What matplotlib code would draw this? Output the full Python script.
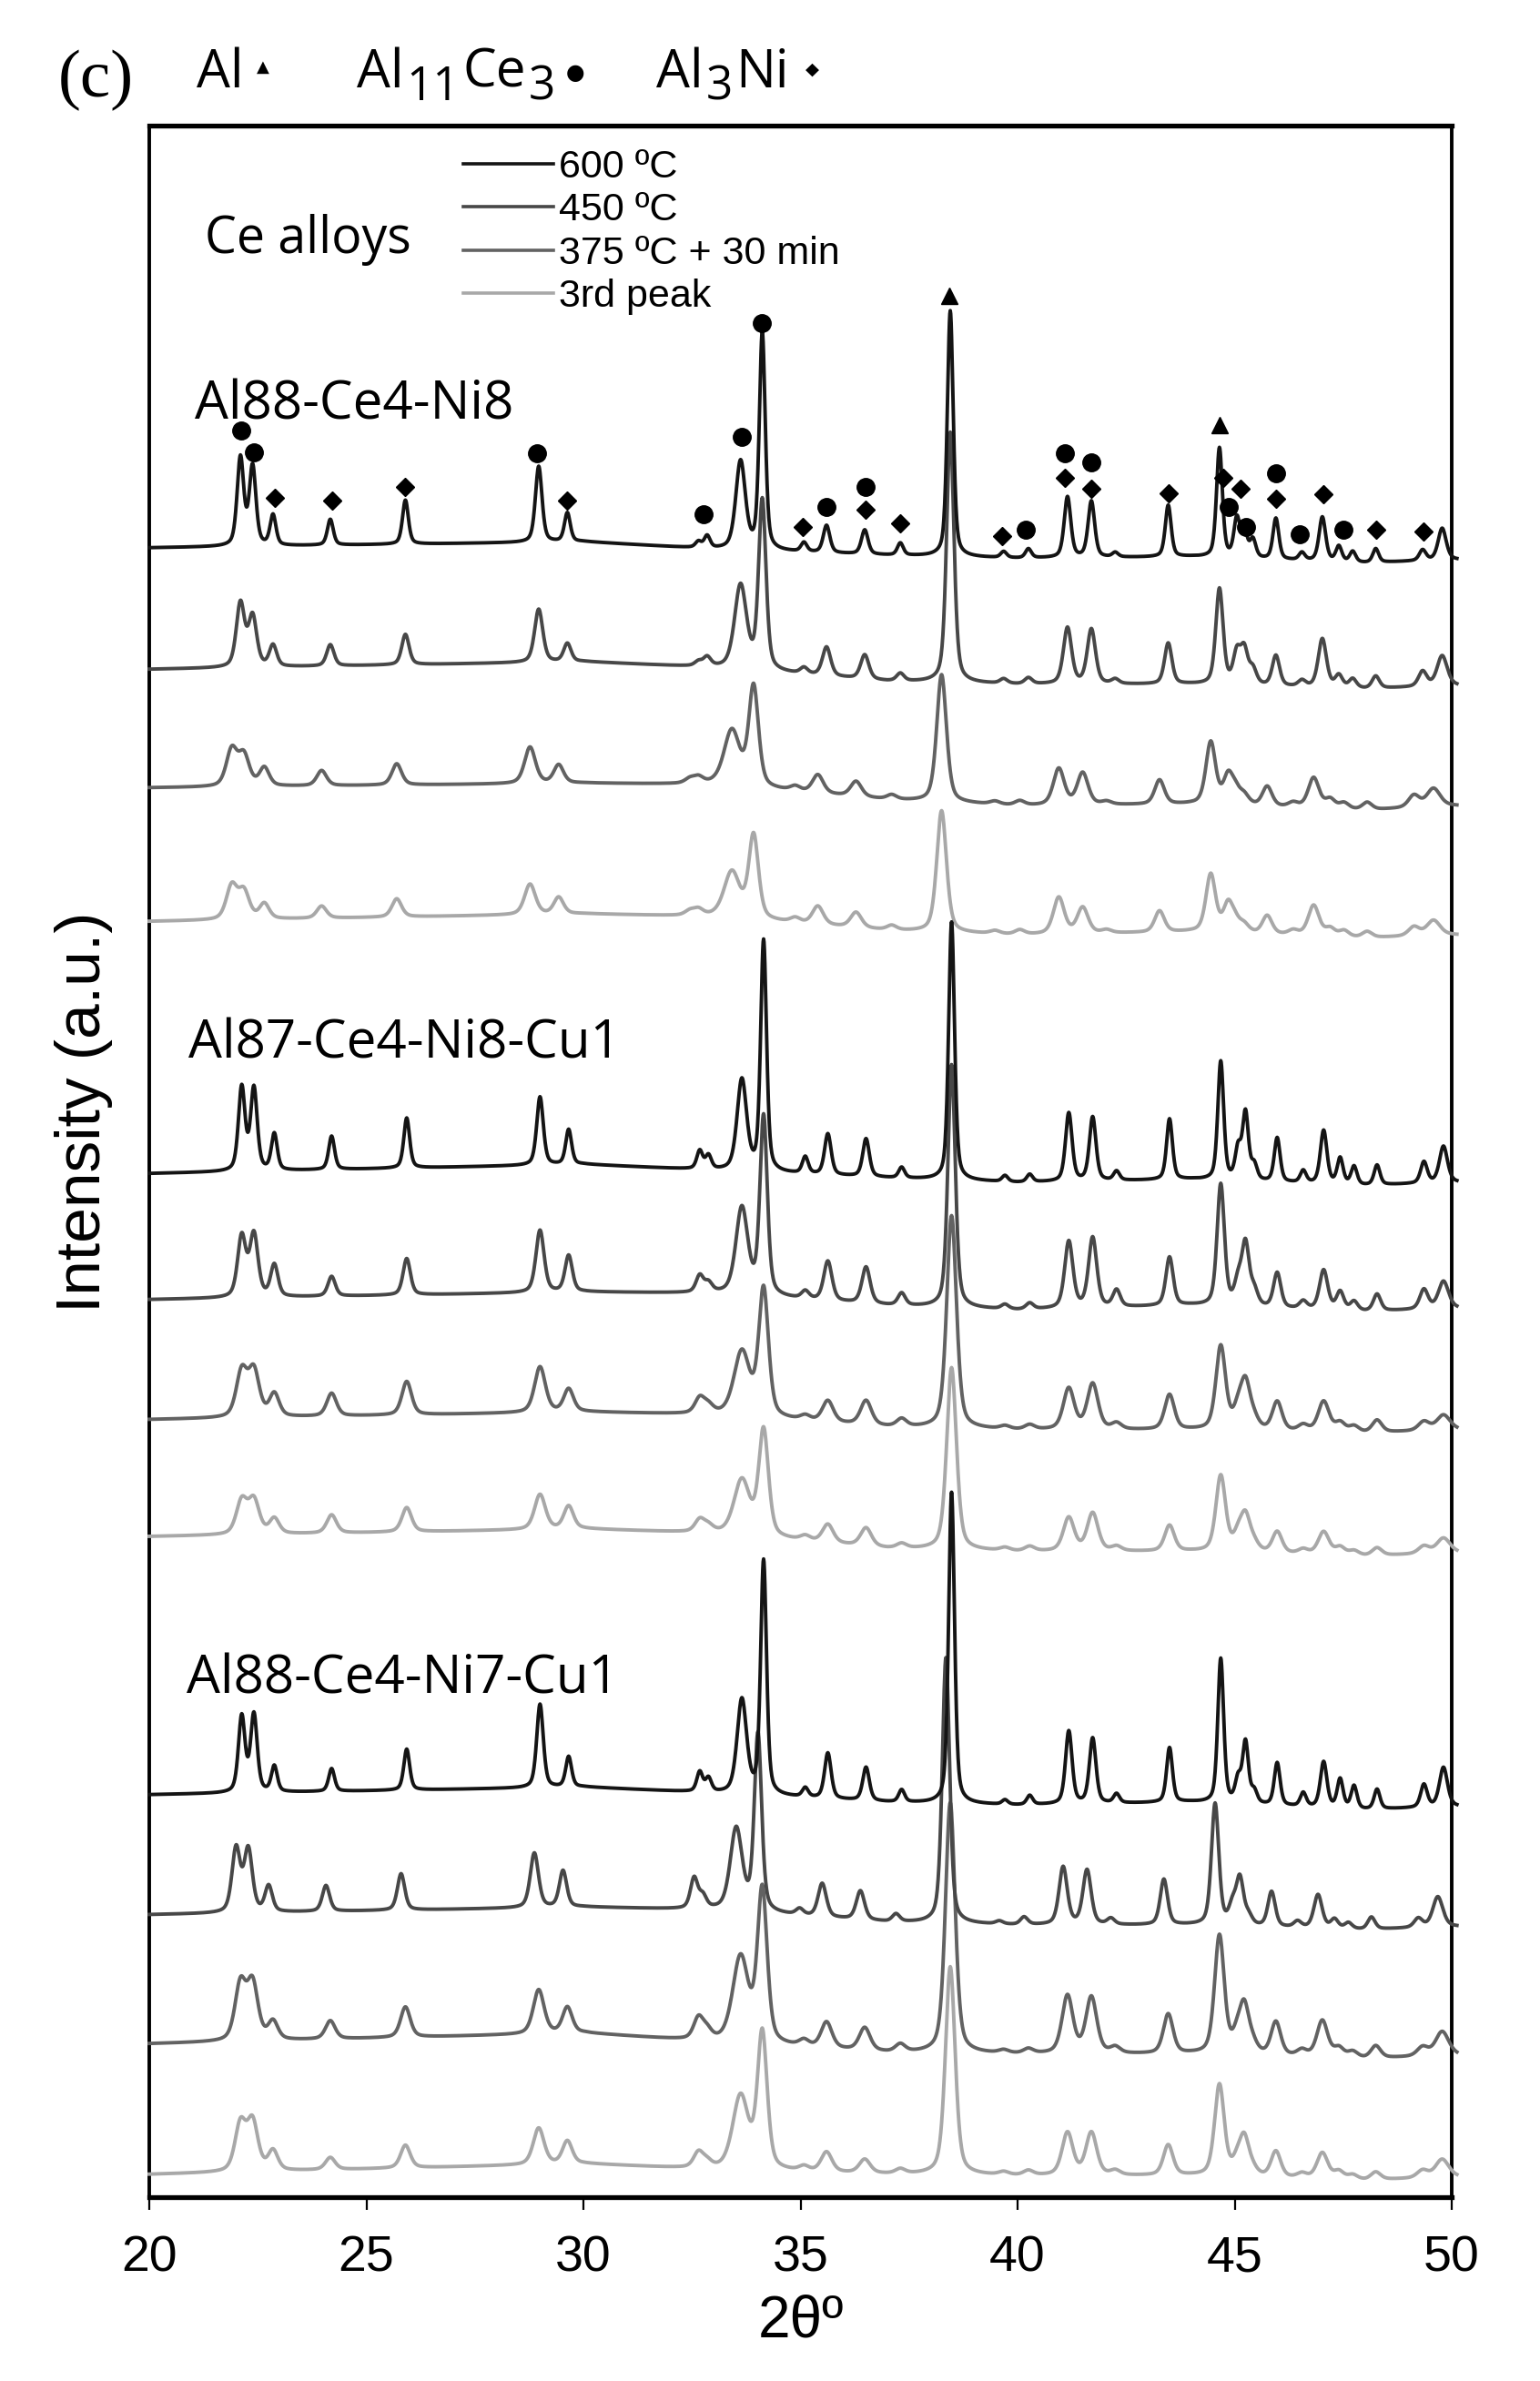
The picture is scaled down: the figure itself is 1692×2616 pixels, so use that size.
import numpy as np
import matplotlib.pyplot as plt

# reflections (2theta, deg) and their half widths for the sharpest pattern
peaks = [22.1, 22.38, 22.85, 24.17, 25.9, 28.97, 29.63, 32.65, 32.85, 33.62,
         34.12, 35.08, 35.6, 36.48, 37.3, 38.45, 39.68, 40.25, 41.15, 41.7,
         42.25, 43.47, 44.65, 45.05, 45.22, 45.42, 45.95, 46.55, 47.02, 47.4,
         47.72, 48.25, 49.33, 49.78]
widths = [0.09, 0.09, 0.08, 0.08, 0.08, 0.09, 0.08, 0.08, 0.08, 0.13,
          0.08, 0.08, 0.09, 0.09, 0.08, 0.08, 0.08, 0.08, 0.09, 0.09,
          0.08, 0.08, 0.08, 0.08, 0.08, 0.08, 0.08, 0.08, 0.09, 0.08,
          0.08, 0.08, 0.09, 0.11]

temps = ['600 ºC', '450 ºC', '375 ºC + 30 min', '3rd peak']
colors = ['#141414', '#474747', '#626262', '#a8a8a8']
width_factor = [1.0, 1.25, 1.65, 1.65]

alloys = ['Al88-Ce4-Ni8', 'Al87-Ce4-Ni8-Cu1', 'Al88-Ce4-Ni7-Cu1']
alloy_label_x = [21.05, 20.9, 20.86]
alloy_label_y = [1180, 759, 341]

# baselines (offset stacking, a.u.) read at these angles
base_x = [20, 30, 33, 37, 40, 44, 48, 50]

# --- Al88-Ce4-Ni8
base_ni8 = [[1086, 1090, 1085, 1081, 1079, 1080, 1076, 1078],
            [1006, 1011, 1007, 998, 996, 996, 993, 995],
            [928, 931, 930, 920, 916, 917, 913, 916],
            [840, 845, 843, 834, 831, 833, 829, 831]]
shift_ni8 = [0.0, 0.0, -0.2, -0.2]
h_ni8_600 = [58, 52, 20, 17, 29, 50, 19, 4, 8, 58, 143, 6, 18, 16, 8, 162, 4,
             6, 40, 37, 3, 34, 72, 25, 18, 12, 27, 5, 29, 10, 7, 9, 7, 21]
h_ni8_450 = [42, 33, 14, 14, 20, 35, 12, 3, 6, 55, 112, 4, 19, 16, 5, 165, 3,
             4, 37, 36, 3, 27, 63, 20, 22, 10, 20, 4, 32, 8, 6, 8, 10, 20]
h_ni8_375 = [24, 20, 12, 10, 14, 24, 12, 3, 4, 36, 66, 3, 12, 10, 3, 84, 2,
             3, 24, 21, 2, 16, 41, 18, 8, 6, 13, 3, 20, 6, 4, 5, 8, 12]
h_ni8_3rd = [22, 18, 10, 8, 12, 20, 11, 3, 4, 30, 55, 3, 12, 10, 3, 80, 2,
             3, 24, 17, 2, 14, 38, 18, 6, 5, 12, 3, 20, 5, 4, 4, 6, 10]

# --- Al87-Ce4-Ni8-Cu1
base_cu1 = [[674, 680, 676, 671, 668, 670, 666, 668],
            [591, 596, 595, 587, 584, 587, 583, 585],
            [512, 517, 515, 507, 505, 505, 503, 505],
            [435, 440, 437, 427, 425, 425, 422, 424]]
shift_cu1 = [0.03, 0.03, 0.03, 0.03]
h_cu1_600 = [55, 54, 24, 22, 33, 45, 23, 12, 9, 60, 152, 11, 27, 25, 7, 170, 4,
             5, 45, 42, 6, 40, 78, 20, 44, 10, 29, 8, 35, 17, 12, 13, 14, 24]
h_cu1_450 = [40, 41, 21, 13, 24, 41, 24, 11, 6, 57, 118, 5, 26, 24, 8, 160, 3,
             4, 44, 46, 11, 32, 80, 15, 40, 10, 23, 5, 26, 12, 6, 11, 13, 18]
h_cu1_375 = [30, 30, 15, 15, 22, 30, 15, 10, 5, 42, 84, 3, 14, 16, 5, 140, 2,
             3, 27, 30, 4, 23, 55, 12, 29, 6, 19, 4, 20, 6, 4, 8, 6, 10]
h_cu1_3rd = [22, 22, 10, 12, 16, 23, 15, 8, 4, 36, 70, 3, 12, 12, 3, 120, 2,
             3, 22, 25, 3, 17, 50, 10, 22, 5, 14, 3, 15, 5, 3, 5, 5, 10]

# --- Al88-Ce4-Ni7-Cu1
base_ni7 = [[265, 270, 266, 260, 258, 260, 255, 257],
            [186, 191, 189, 181, 179, 179, 176, 178],
            [101, 108, 102, 95, 94, 94, 91, 93],
            [15, 22, 18, 15, 14, 14, 11, 13]]
shift_ni7 = [0.03, -0.1, 0.0, 0.0]
h_ni7_600 = [50, 51, 17, 15, 27, 55, 20, 13, 9, 62, 154, 6, 30, 22, 8, 205, 3,
             6, 48, 43, 6, 36, 95, 15, 40, 8, 28, 9, 30, 19, 15, 13, 15, 26]
h_ni7_450 = [42, 41, 17, 17, 24, 36, 24, 20, 8, 54, 117, 4, 22, 19, 5, 175, 2,
             5, 38, 36, 4, 30, 80, 12, 30, 6, 23, 4, 22, 6, 4, 8, 6, 20]
h_ni7_375 = [37, 37, 12, 12, 20, 29, 17, 14, 6, 56, 101, 4, 17, 15, 5, 165, 2,
             3, 38, 37, 4, 26, 78, 10, 30, 6, 22, 4, 24, 6, 4, 8, 6, 16]
h_ni7_3rd = [31, 32, 13, 8, 15, 24, 15, 10, 4, 48, 90, 3, 13, 9, 3, 137, 2,
             3, 28, 28, 3, 20, 60, 8, 24, 4, 17, 3, 17, 5, 3, 5, 5, 12]

heights = [[h_ni8_600, h_ni8_450, h_ni8_375, h_ni8_3rd],
           [h_cu1_600, h_cu1_450, h_cu1_375, h_cu1_3rd],
           [h_ni7_600, h_ni7_450, h_ni7_375, h_ni7_3rd]]
bases = [base_ni8, base_cu1, base_ni7]
shifts = [shift_ni8, shift_cu1, shift_ni7]

# phase markers over the top pattern
al_x = [38.42, 44.66]
al_y = [1252, 1167]
al11ce3_x = [22.12, 22.42, 28.93, 32.76, 33.64, 34.1, 35.6, 36.49, 40.18,
             41.1, 41.7, 44.87, 45.26, 45.95, 46.5, 47.5]
al11ce3_y = [1163, 1149, 1148, 1108, 1159, 1234, 1113, 1126, 1098,
             1148, 1142, 1113, 1100, 1135, 1095, 1098]
al3ni_x = [22.9, 24.22, 25.9, 29.63, 35.05, 36.49, 37.3, 39.65, 41.1, 41.7,
           43.47, 44.74, 45.14, 45.95, 47.04, 48.25, 49.36]
al3ni_y = [1119, 1117, 1126, 1117, 1100, 1111, 1102, 1094, 1132, 1125,
           1122, 1132, 1125, 1118, 1121, 1098, 1097]


def profile(x, p, w):
    # pseudo-Voigt peak, unit height
    g = np.exp(-np.log(2) * (x - p) ** 2 / w ** 2)
    l = 1.0 / (1.0 + ((x - p) / w) ** 2)
    return 0.55 * g + 0.45 * l


tt = np.linspace(20, 50.12, 3013)

fig = plt.figure(figsize=(16.92, 26.16), dpi=100)
ax = fig.add_axes([164 / 1692, 1 - 2414 / 2616, (1595 - 164) / 1692, (2414 - 138) / 2616])

# lighter patterns first so the black ones sit on top
for t in [3, 2, 1, 0]:
    for g in range(3):
        y = np.interp(tt, base_x, bases[g][t])
        for p, w, h in zip(peaks, widths, heights[g][t]):
            y = y + h * profile(tt, p + shifts[g][t], w * width_factor[t])
        ax.plot(tt, y, color=colors[t], lw=2.8, clip_on=False,
                label=temps[t] if g == 0 else None, zorder=3 + (3 - t))

ax.plot(al11ce3_x, al11ce3_y, 'o', color='k', ms=14, zorder=10)
ax.plot(al3ni_x, al3ni_y, 'D', color='k', ms=10, zorder=10)
ax.plot(al_x, al_y, '^', color='k', ms=13, zorder=10)

for name, lx, ly in zip(alloys, alloy_label_x, alloy_label_y):
    ax.text(lx, ly, name, fontsize=42, family='Open Sans', ha='left', va='center')
ax.text(21.28, 1289, 'Ce alloys', fontsize=40, family='Open Sans', ha='left', va='center')

handles, labels = ax.get_legend_handles_labels()
order = [labels.index(t) for t in temps]
leg = ax.legend([handles[i] for i in order], [labels[i] for i in order],
                loc='upper left', bbox_to_anchor=(509 / 1692, 1 - 164 / 2616),
                bbox_transform=fig.transFigure, frameon=False,
                prop={'family': 'Liberation Sans', 'size': 31},
                handlelength=2.3, handletextpad=0.15, labelspacing=0.17,
                borderpad=0, borderaxespad=0)
for ln in leg.get_lines():
    ln.set_linewidth(2.6)

ax.set_xlim(20, 50)
ax.set_ylim(0, 1364)
ax.set_xticks([20, 25, 30, 35, 40, 45, 50])
ax.set_yticks([])
ax.tick_params(axis='x', direction='out', length=10, width=1.6, pad=20, labelsize=40)
for lab in ax.get_xticklabels():
    lab.set_family('Liberation Sans')
for side in ['top', 'bottom']:
    ax.spines[side].set_linewidth(3.8)
for side in ['left', 'right']:
    ax.spines[side].set_linewidth(2.8)

fig.text(880 / 1692, 1 - 2550 / 2616, '2θº', fontsize=46, family='Liberation Sans',
         ha='center', va='center')
fig.text(92 / 1692, 1 - 1222 / 2616, 'Intensity (a.u.)', fontsize=50,
         family='Liberation Sans', rotation=90, ha='center', va='center')

# panel letter and phase key
fig.text(64 / 1692, 1 - 88 / 2616, '(c)', fontsize=54, family='Liberation Serif',
         ha='left', va='center')

renderer = fig.canvas.get_renderer()


def key_piece(x_px, s, size, dy=0):
    # place a text piece at pixel x (baseline), return its right edge in pixels
    tx = fig.text(x_px / 1692, 1 - (96 + dy) / 2616, s, fontsize=size,
                  family='Open Sans', ha='left', va='baseline')
    return tx.get_window_extent(renderer).x1


key_piece(216, 'Al', 42)
fig.text(289 / 1692, 1 - 74 / 2616, '▲', fontsize=13, family='DejaVu Sans',
         ha='center', va='center')
x = key_piece(392, 'Al', 42)
x = key_piece(x + 3, '11', 37, dy=14)
x = key_piece(x + 3, 'Ce', 42)
x = key_piece(x + 3, '3', 37, dy=14)
fig.text((x + 22) / 1692, 1 - 80 / 2616, '●', fontsize=17, family='DejaVu Sans',
         ha='center', va='center')
x = key_piece(721, 'Al', 42)
x = key_piece(x + 3, '3', 37, dy=14)
x = key_piece(x + 3, 'Ni', 42)
fig.text((x + 26) / 1692, 1 - 76 / 2616, '◆', fontsize=14, family='DejaVu Sans',
         ha='center', va='center')

fig.savefig('out.png', dpi=100, facecolor='white')
